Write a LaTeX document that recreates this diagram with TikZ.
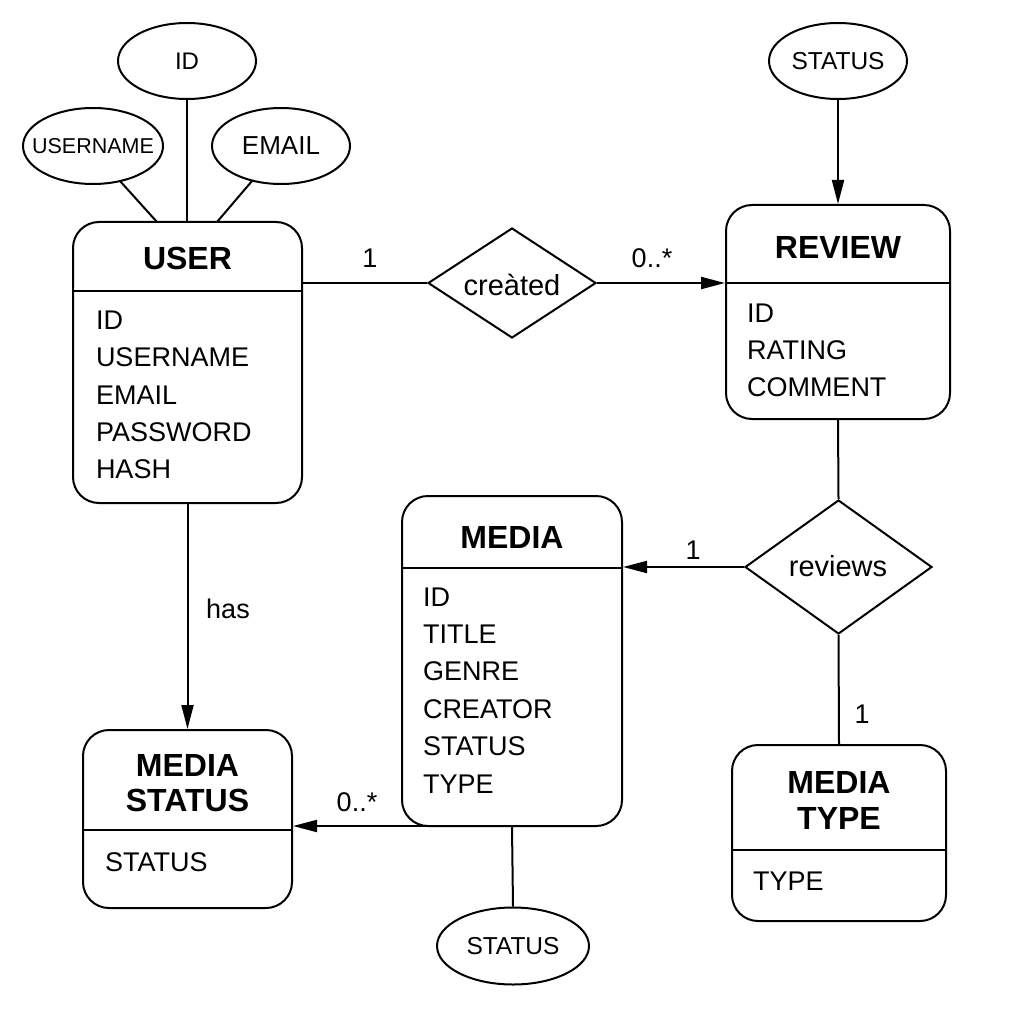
\documentclass[tikz,border=0pt]{standalone}
\usepackage{fontspec}
\setmainfont{Liberation Sans}
\usetikzlibrary{arrows.meta,shapes.geometric}
\begin{document}
\begin{tikzpicture}[x=1pt,y=-1pt,
  every path/.style={line width=2pt},
  ebox/.style={draw,rounded corners=26pt,line width=2pt,inner sep=0pt},
  title/.style={font=\fontsize{32}{36}\selectfont\bfseries,inner sep=0pt,align=center},
  attr/.style={font=\fontsize{27}{30}\selectfont,inner sep=0pt,anchor=west},
  attrib/.style={draw,ellipse,line width=2pt,inner sep=0pt},
  rel/.style={draw,diamond,line width=2pt,inner sep=0pt,aspect=1.5},
  lbl/.style={font=\fontsize{27}{30}\selectfont,inner sep=0pt},
  arr/.style={-{Triangle[length=24pt,width=12pt]}}]
\useasboundingbox (0,0) rectangle (1024,1024);

% USER
\node[ebox,minimum width=229pt,minimum height=281pt] (user) at (187.5,362.5) {};
\draw (73,291) coordinate (us1) -- (302,291) coordinate (us2);
\node[title] (usert) at (187.5,258) {USER};
\node[attr] (u1) at (95,320) {ID};
\node[attr] (u2) at (95,357) {USERNAME};
\node[attr] (u3) at (95,395) {EMAIL};
\node[attr] (u4) at (95,432) {PASSWORD};
\node[attr] (u5) at (95,469) {HASH};

% REVIEW
\node[ebox,minimum width=224pt,minimum height=214pt] (review) at (838,312) {};
\draw (726,283) coordinate (rs1) -- (950,283) coordinate (rs2);
\node[title] (reviewt) at (838,247) {REVIEW};
\node[attr] (r1) at (746,313) {ID};
\node[attr] (r2) at (746,350) {RATING};
\node[attr] (r3) at (746,387) {COMMENT};

% MEDIA
\node[ebox,minimum width=220pt,minimum height=330pt] (media) at (512,661) {};
\draw (402,568) coordinate (ms1) -- (622,568) coordinate (ms2);
\node[title] (mediat) at (512,537) {MEDIA};
\node[attr] (m1) at (422,597) {ID};
\node[attr] (m2) at (422,634) {TITLE};
\node[attr] (m3) at (422,671) {GENRE};
\node[attr] (m4) at (422,709) {CREATOR};
\node[attr] (m5) at (422,746) {STATUS};
\node[attr] (m6) at (422,784) {TYPE};

% MEDIA STATUS
\node[ebox,minimum width=209pt,minimum height=178pt] (mstatus) at (187.5,819) {};
\draw (83,830) coordinate (ss1) -- (292,830) coordinate (ss2);
\node[title] (mstatust) at (187.5,783) {MEDIA\\[-1pt]STATUS};
\node[attr] (s1) at (104,862) {STATUS};

% MEDIA TYPE
\node[ebox,minimum width=214pt,minimum height=176pt] (mtype) at (839,833) {};
\draw (732,850) coordinate (ts1) -- (946,850) coordinate (ts2);
\node[title] (mtypet) at (839,800) {MEDIA\\[0pt]TYPE};
\node[attr] (t1) at (752,881) {TYPE};

% attribute ellipses
\node[attrib,minimum width=138pt,minimum height=76pt] (eid) at (187,61) {};
\node[lbl,font=\fontsize{24}{26}\selectfont] (eidt) at (eid) {ID};
\node[attrib,minimum width=140pt,minimum height=76pt] (euser) at (93,146) {};
\node[lbl,font=\fontsize{21.5}{24}\selectfont] (eusert) at (euser) {USERNAME};
\node[attrib,minimum width=138pt,minimum height=76pt] (eemail) at (281,146) {};
\node[lbl,font=\fontsize{26}{28}\selectfont] (eemailt) at (eemail) {EMAIL};
\node[attrib,minimum width=138pt,minimum height=76pt] (estat1) at (838,61) {};
\node[lbl,font=\fontsize{24.5}{26}\selectfont] (estat1t) at (estat1) {STATUS};
\node[attrib,minimum width=152pt,minimum height=77pt] (estat2) at (513,946) {};
\node[lbl,font=\fontsize{24.5}{26}\selectfont] (estat2t) at (estat2) {STATUS};

% relationships
\node[rel,minimum width=168pt,minimum height=110pt] (created) at (512,283) {};
\node[lbl,font=\fontsize{29}{30}\selectfont] (createdt) at (512,285) {creàted};
\node[rel,minimum width=187pt,minimum height=134pt] (reviews) at (838.5,567) {};
\node[lbl,font=\fontsize{29}{30}\selectfont] (reviewst) at (838,566) {reviews};

% connectors
\draw (eid.south) -- (eid.south |- user.north);
\draw (120,181) coordinate (cu1) -- (157,222) coordinate (cu2);
\draw (252,181) coordinate (ce1) -- (217,222) coordinate (ce2);
\draw (user.east |- created.west) -- (created.west);
\draw[arr] (created.east) -- (review.west |- created.east);
\draw[arr] (estat1.south) -- (review.north);
\draw (review.south) -- (reviews.north);
\draw[arr] (reviews.west) -- (media.east |- reviews.west);
\draw (reviews.south) -- (mtype.north);
\draw[arr] (user.south) -- (mstatus.north);
\draw[arr] (430,826) coordinate (mb) -- (mstatus.east |- mb);
\draw (media.south) -- (estat2.north);

% labels
\node[lbl] (l1) at (370,258) {1};
\node[lbl] (l2) at (652,258) {0..*};
\node[lbl] (l3) at (693,550) {1};
\node[lbl] (l4) at (862,714) {1};
\node[lbl] (l5) at (228,609) {has};
\node[lbl] (l6) at (357,802) {0..*};
\end{tikzpicture}
\end{document}
